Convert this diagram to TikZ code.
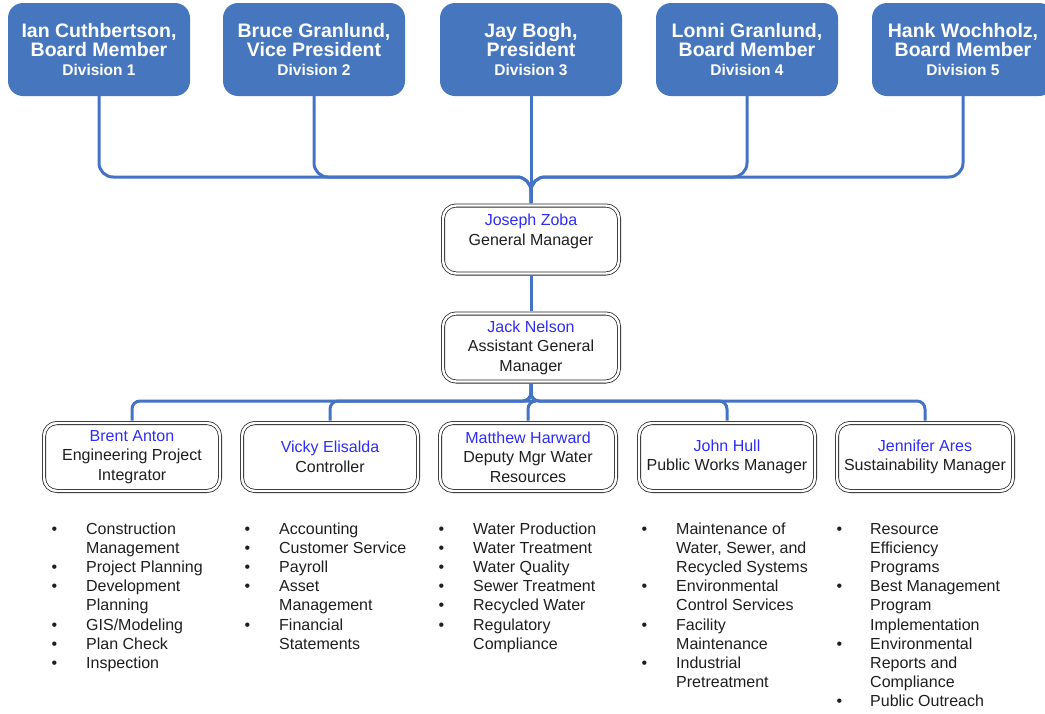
\documentclass[tikz,border=0pt]{standalone}
\usepackage{fontspec}
\setmainfont{Liberation Sans}
\definecolor{boardblue}{RGB}{70,119,190}
\definecolor{linkblue}{RGB}{68,114,196}
\definecolor{nameblue}{RGB}{45,45,245}
\definecolor{txtgray}{RGB}{30,30,30}
\newcommand{\who}[1]{\textcolor{nameblue}{#1}}
\newcommand{\bu}{\textbullet &}
\newcommand{\divn}[1]{{\fontsize{15.5}{19}\selectfont Division #1}}
\begin{document}
\begin{tikzpicture}[x=1pt, y=-1pt,
    boardbox/.style={fill=boardblue, rounded corners=15pt, minimum width=182pt, minimum height=93pt,
        inner sep=0pt, text=white, align=center, font=\bfseries\fontsize{19.5}{19}\selectfont},
    staffbox/.style={draw=black!85, double=white, double distance=2.4pt, line width=0.8pt,
        rounded corners=13pt, minimum width=176pt, minimum height=68pt, inner sep=0pt,
        align=center, text=txtgray, font=\fontsize{16}{19.5}\selectfont},
    conn/.style={draw=linkblue, line width=3pt},
    duties/.style={anchor=north west, inner sep=0pt, text=txtgray, font=\fontsize{16}{19.2}\selectfont}]
    \useasboundingbox (0,0) rectangle (1045,713);

    % 董事会
    \node[boardbox] (b1) at (99,49.5)  {Ian Cuthbertson,\\Board Member\\\divn{1}};
    \node[boardbox] (b2) at (314,49.5) {Bruce Granlund,\\Vice President\\\divn{2}};
    \node[boardbox] (b3) at (531,49.5) {Jay Bogh,\\President\\\divn{3}};
    \node[boardbox] (b4) at (747,49.5) {Lonni Granlund,\\Board Member\\\divn{4}};
    \node[boardbox] (b5) at (963,49.5) {Hank Wochholz,\\Board Member\\\divn{5}};

    % 总经理与助理总经理
    \node[staffbox] (gm)  at (531,239.5) {\who{Joseph Zoba}\\General Manager\\\mbox{}};
    \node[staffbox] (agm) at (531,347.5) {\who{Jack Nelson}\\Assistant General\\Manager};

    % 部门负责人
    \node[staffbox] (s1) at (132,457) {\who{Brent Anton}\\Engineering Project\\Integrator};
    \node[staffbox] (s2) at (330,457) {\who{Vicky Elisalda}\\Controller};
    \node[staffbox] (s3) at (528,457) {\who{Matthew Harward}\\Deputy Mgr Water\\Resources};
    \node[staffbox] (s4) at (727,457) {\who{John Hull}\\Public Works Manager};
    \node[staffbox] (s5) at (925,457) {\who{Jennifer Ares}\\Sustainability Manager};

    % 连接线
    \coordinate (topbus) at (531,177);
    \coordinate (botbus) at (531,401);
    \foreach \b in {b1,b2,b4,b5}
        \draw[conn, rounded corners=14pt, shorten >=2pt] (\b.south) |- (topbus) -- (gm.north);
    \draw[conn, shorten >=2pt] (b3.south) -- (gm.north);
    \draw[conn, shorten <=2pt, shorten >=2pt] (gm.south) -- (agm.north);
    \foreach \s in {s1,s2,s3,s4,s5}
        \draw[conn, rounded corners=8pt, shorten <=2pt, shorten >=2pt] (\s.north) |- (botbus) -- (agm.south);

    % 职责列表
    \node[duties] (d1) at (51.4,520.5) {\begin{tabular}{@{}p{34.6pt}@{}l@{}}
        \bu Construction\\ & Management\\ \bu Project Planning\\ \bu Development\\ & Planning\\
        \bu GIS/Modeling\\ \bu Plan Check\\ \bu Inspection
    \end{tabular}};
    \node[duties] (d2) at (244.4,520.5) {\begin{tabular}{@{}p{34.6pt}@{}l@{}}
        \bu Accounting\\ \bu Customer Service\\ \bu Payroll\\ \bu Asset\\ & Management\\
        \bu Financial\\ & Statements
    \end{tabular}};
    \node[duties] (d3) at (438.4,520.5) {\begin{tabular}{@{}p{34.6pt}@{}l@{}}
        \bu Water Production\\ \bu Water Treatment\\ \bu Water Quality\\ \bu Sewer Treatment\\
        \bu Recycled Water\\ \bu Regulatory\\ & Compliance
    \end{tabular}};
    \node[duties] (d4) at (641.4,520.5) {\begin{tabular}{@{}p{34.6pt}@{}l@{}}
        \bu Maintenance of\\ & Water, Sewer, and\\ & Recycled Systems\\ \bu Environmental\\ & Control Services\\
        \bu Facility\\ & Maintenance\\ \bu Industrial\\ & Pretreatment
    \end{tabular}};
    \node[duties] (d5) at (836.4,520.5) {\begin{tabular}{@{}p{33.6pt}@{}l@{}}
        \bu Resource\\ & Efficiency\\ & Programs\\ \bu Best Management\\ & Program\\ & Implementation\\
        \bu Environmental\\ & Reports and\\ & Compliance\\ \bu Public Outreach
    \end{tabular}};
\end{tikzpicture}
\end{document}
